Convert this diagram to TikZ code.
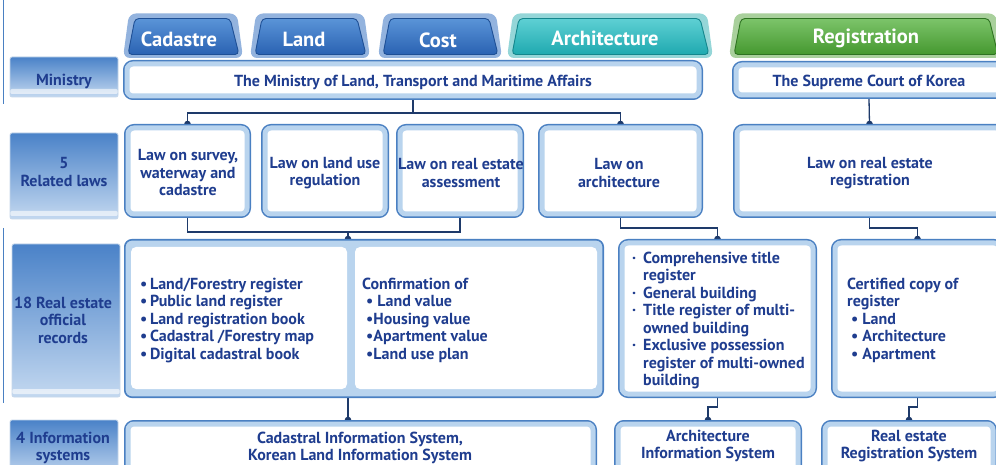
\documentclass[tikz,border=0pt]{standalone}
\usepackage{fontspec}
\setmainfont{PT Sans}
\usetikzlibrary{arrows.meta,fit,calc,backgrounds}
\definecolor{navy}{HTML}{1F3D8F}
\definecolor{outl}{HTML}{4A80C2}
\definecolor{band}{HTML}{B9D4EE}
\definecolor{connc}{HTML}{1E3A6A}
\definecolor{labtop}{HTML}{4A82C8}
\definecolor{labbot}{HTML}{C3D8F0}
\definecolor{labedge}{HTML}{C6D7EA}
\definecolor{bluelt}{HTML}{93B3DE}
\definecolor{bluetop}{HTML}{5A94D8}
\definecolor{bluebot}{HTML}{2A62B2}
\definecolor{blueedge}{HTML}{1E4F95}
\definecolor{teallt}{HTML}{95D6D8}
\definecolor{tealtop}{HTML}{5ED0D4}
\definecolor{tealbot}{HTML}{1FA9AF}
\definecolor{tealedge}{HTML}{14868C}
\definecolor{greenlt}{HTML}{A9D09C}
\definecolor{greentop}{HTML}{7CC46A}
\definecolor{greenbot}{HTML}{45982F}
\definecolor{greenedge}{HTML}{2E7221}
\tikzset{
  bx/.style={rounded corners=6pt, fill=white, draw=band, line width=5pt,
    preaction={draw=outl, line width=8pt}, inner sep=0pt, outer sep=4pt},
  bxo/.style={rounded corners=7pt, fill=band, draw=outl, line width=1.6pt,
    inner sep=0pt, outer sep=0.8pt},
  pnl/.style={rounded corners=5pt, fill=white, draw=none, inner sep=0pt},
  lab/.style={rounded corners=2pt, top color=labtop, bottom color=labbot,
    draw=labedge, line width=0.8pt, inner sep=0pt,
    path picture={\fill[white,opacity=0.6]
      ([yshift=3pt]path picture bounding box.south west) rectangle
      ([yshift=8pt]path picture bounding box.south east);}},
  txt/.style={text=navy, font=\bfseries\fontsize{16}{17.5}\selectfont,
    align=center, inner sep=0pt, yshift=-2pt},
  ltxt/.style={txt, align=left, anchor=west},
  tabtxt/.style={text=white, font=\bfseries\fontsize{20.5}{22}\selectfont, inner sep=0pt},
  conn/.style={draw=connc, line width=1.3pt},
  dot/.style={-{Circle[length=6.5pt]}, shorten >=-3.25pt},
}
\newcommand\mktab[6]{%
  \fill[#3, rounded corners=7pt] (#1,58) -- ({#1+6},13.5) -- ({#2-6},13.5) -- (#2,58) -- cycle;
  \draw[#6, line width=0.9pt, top color=#4, bottom color=#5, rounded corners=4pt]
    ({#1+5},54.5) -- ({#1+12},18.5) -- ({#2-13},18.5) -- ({#2-4},54.5) -- cycle;
}
\begin{document}
\begin{tikzpicture}[x=1pt, y=-1pt]
\useasboundingbox (0,0) rectangle (996,465);
% left decorative line
\draw[outl, line width=1.6pt] (3.5,0) -- (3.5,104) (3.5,228) -- (3.5,403);

% tabs
\mktab{123}{243}{bluelt}{bluetop}{bluebot}{blueedge}
\mktab{250}{370}{bluelt}{bluetop}{bluebot}{blueedge}
\mktab{378}{502}{bluelt}{bluetop}{bluebot}{blueedge}
\mktab{507}{713}{teallt}{tealtop}{tealbot}{tealedge}
\mktab{729}{1002}{greenlt}{greentop}{greenbot}{greenedge}
\node[tabtxt] (tcad) at (179,39) {Cadastre};
\node[tabtxt] (tland) at (304,39) {Land};
\node[tabtxt] (tcost) at (438,40) {Cost};
\node[tabtxt] (tarch) at (605,38) {Architecture};
\node[tabtxt] (treg) at (866,38) {Registration};

% row labels
\node[lab, fit={(10,57) (118,97)}] (l1) {};
\node[lab, fit={(10,133) (118,219)}] (l2) {};
\node[lab, fit={(12,244) (120,397)}] (l3) {};
\node[lab, fit={(10,420) (118,478)}] (l4) {};
\node[txt] (l1t) at (64,79) {Ministry};
\node[txt] (l2t) at (64,170) {5\\Related laws};
\node[txt] (l3t) at (63,318) {18 Real estate\\official\\records};
\node[txt] (l4t) at (63,446) {4 Information\\systems};

% ministry row
\node[bx, fit={(127,64) (699,96)}] (minis) {};
\node[txt] at (minis.center) {The Ministry of Land, Transport and Maritime Affairs};
\node[bx, fit={(736,65) (1002,95)}] (supreme) {};
\node[txt] at (869,80) {The Supreme Court of Korea};

% laws row
\node[bx, fit={(128,128) (247,214)}] (survey) {};
\node[txt] at (188,171) {Law on survey,\\waterway and\\cadastre};
\node[bx, fit={(265,128) (385,214)}] (landuse) {};
\node[txt] at (325,171) {Law on land use\\regulation};
\node[bx, fit={(400,128) (520,214)}] (assess) {};
\node[txt] at (461,171) {Law on real estate\\assessment};
\node[bx, fit={(542,128) (699,214)}] (archlaw) {};
\node[txt] at (619,171) {Law on\\architecture};
\node[bx, fit={(737,128) (1002,214)}] (reglaw) {};
\node[txt] at (870,171) {Law on real estate\\registration};

% records row
\node[bxo, fit={(124.8,239.8) (603.2,397.2)}] (rec) {};
\node[pnl, fit={(131,247) (347,389)}] (recl) {};
\node[pnl, fit={(355,247) (597,389)}] (recr) {};
\node[ltxt] at (140,318) {•\,Land/Forestry register\\•\,Public land register\\•\,Land registration book\\•\,Cadastral /Forestry map\\•\,Digital cadastral book};
\node[ltxt] at (362,318) {Confirmation of\\\hspace*{4pt}•\hspace*{4pt}Land value\\\hspace*{4pt}•Housing value\\\hspace*{4pt}•Apartment value\\\hspace*{4pt}•Land use plan};
\node[bx, fit={(622,243) (813,394)}] (archrec) {};
\node[ltxt] at (632,318.5) {\makebox[11pt][l]{·}Comprehensive title\\\hspace*{11pt}register\\\makebox[11pt][l]{·}General building\\\makebox[11pt][l]{·}Title register of multi-\\\hspace*{11pt}owned building\\\makebox[11pt][l]{·}Exclusive possession\\\hspace*{11pt}register of multi-owned\\\hspace*{11pt}building};
\node[bx, fit={(835,243) (1000,394)}] (regrec) {};
\node[ltxt] at (847,318) {Certified copy of\\register\\\hspace*{4pt}•\hspace*{4pt}Land\\\hspace*{4pt}•\hspace*{4pt}Architecture\\\hspace*{4pt}•\hspace*{4pt}Apartment};

% info systems row
\node[bx, fit={(128,424) (593,490)}] (cadis) {};
\node[txt] at (360,446) {Cadastral Information System,\\Korean Land Information System};
\node[bx, fit={(618,424) (798,490)}] (archis) {};
\node[txt] at (708,444) {Architecture\\Information System};
\node[bx, fit={(825,424) (993,490)}] (regis) {};
\node[txt] at (909,444) {Real estate\\Registration System};

% connectors (behind the boxes, so their end dots show as half circles)
\begin{scope}[on background layer]
\fill[white] (0,0) rectangle (996,465);
\coordinate (j1) at (348,232);
\draw[conn, dot] (minis.south) -- ++(0,13) -| (survey.north);
\draw[conn, dot] (minis.south) -- ++(0,13) -| (archlaw.north);
\draw[conn, dot] (supreme.south) -- (reglaw.north);
\draw[conn] (survey.south) |- (j1) -| (assess.south);
\draw[conn, dot] (j1) -- (j1 |- rec.north);
\draw[conn, dot] (archlaw.south) -- ++(0,10) -| (archrec.north);
\draw[conn, dot] (reglaw.south) -- ++(0,10) -| (regrec.north);
\draw[conn, dot] (j1 |- rec.south) -- (j1 |- cadis.north);
\draw[conn, dot] (archrec.south) -- ++(0,9) -| (archis.north);
\draw[conn, dot] (regrec.south) -- ++(0,9) -| (regis.north);
\end{scope}
\end{tikzpicture}
\end{document}
